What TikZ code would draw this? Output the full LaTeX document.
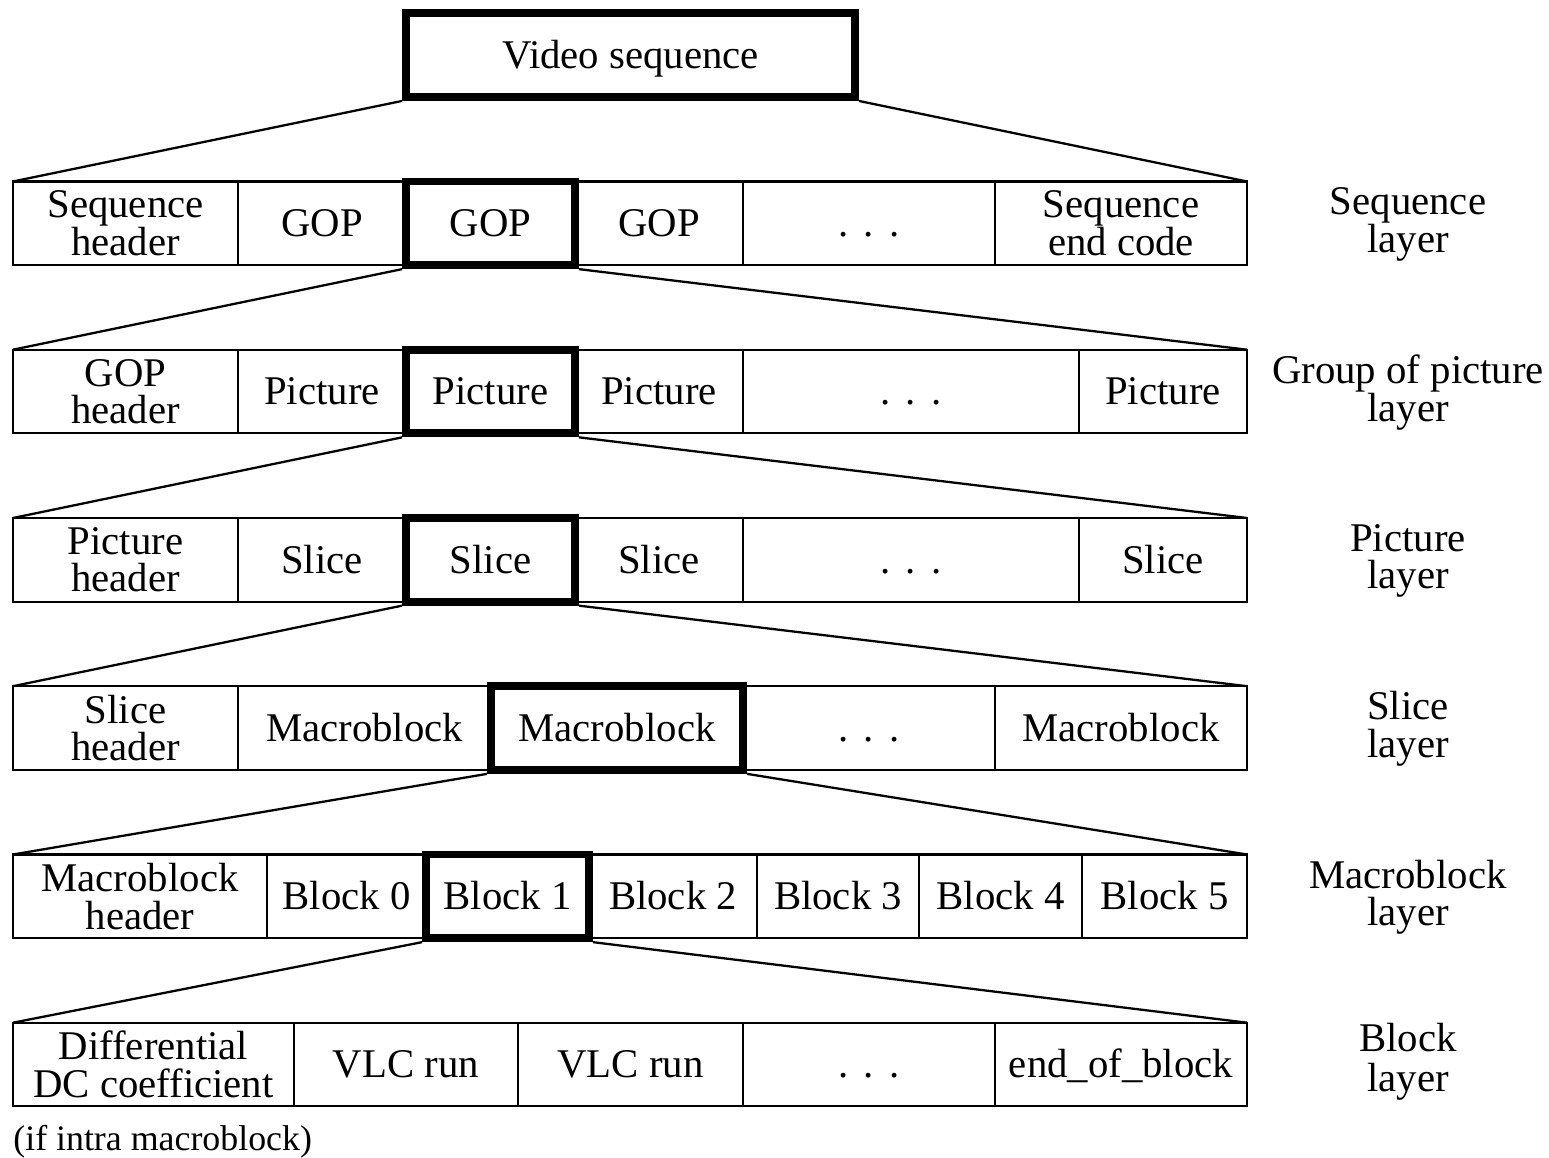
\documentclass[tikz,border=0pt]{standalone}
\usepackage{fontspec}
\setmainfont{Liberation Serif}
\usetikzlibrary{positioning,fit,calc}

\tikzset{
    box/.style={
            draw,
            line width=1.2pt,
            inner sep=0pt,
            outer sep=0pt,
            minimum height=83.7*0.02cm
        },
    cell/.style={
            box,
            text height=15pt,
            text depth=0pt
        },
    two line/.style={
            box,
            align=center
        },
    cellw/.style={
            minimum width=#1*0.02cm
        },
    sel/.style={
            draw,
            line width=4.5pt,
            inner sep=0pt,
            outer sep=2.25pt
        },
    fan/.style={
            line width=1.3pt
        },
    layer label/.style={
            align=center
        }
}

\newcommand{\gapdots}{.\hspace{0.38em}.\hspace{0.38em}.}

\begin{document}
\begin{tikzpicture}[x=0.02cm, y=-0.02cm, font=\fontsize{23.2}{21.4}\selectfont]
    \useasboundingbox (0,0) rectangle (1549,1158);

    % top box
    \node [cell, sel, minimum width=449*0.02cm, minimum height=84*0.02cm] (vs) at (630.5,55) {Video sequence};

    % sequence layer
    \node [two line, cellw=225, anchor=north west] (sh) at (13,181.5) {Sequence\\header};
    \node [cell, cellw=168, right=0pt of sh] (g1) {GOP};
    \node [cell, cellw=169, right=0pt of g1] (g2) {GOP};
    \node [cell, cellw=168, right=0pt of g2] (g3) {GOP};
    \node [cell, cellw=252, right=0pt of g3] (sdots) {\gapdots};
    \node [two line, cellw=252, right=0pt of sdots] (sec) {Sequence\\end code};

    % group of picture layer
    \node [two line, cellw=225, anchor=north west] (gh) at (13,349.7) {GOP\\header};
    \node [cell, cellw=168, right=0pt of gh] (p1) {Picture};
    \node [cell, cellw=169, right=0pt of p1] (p2) {Picture};
    \node [cell, cellw=168, right=0pt of p2] (p3) {Picture};
    \node [cell, cellw=336, right=0pt of p3] (gdots) {\gapdots};
    \node [cell, cellw=168, right=0pt of gdots] (p4) {Picture};

    % picture layer
    \node [two line, cellw=225, anchor=north west] (ph) at (13,518) {Picture\\header};
    \node [cell, cellw=168, right=0pt of ph] (sl1) {Slice};
    \node [cell, cellw=169, right=0pt of sl1] (sl2) {Slice};
    \node [cell, cellw=168, right=0pt of sl2] (sl3) {Slice};
    \node [cell, cellw=336, right=0pt of sl3] (pdots) {\gapdots};
    \node [cell, cellw=168, right=0pt of pdots] (sl4) {Slice};

    % slice layer
    \node [two line, cellw=225, anchor=north west] (slh) at (13,686.2) {Slice\\header};
    \node [cell, cellw=253, right=0pt of slh] (mb1) {Macroblock};
    \node [cell, cellw=252, right=0pt of mb1] (mb2) {Macroblock};
    \node [cell, cellw=252, right=0pt of mb2] (sldots) {\gapdots};
    \node [cell, cellw=252, right=0pt of sldots] (mb3) {Macroblock};

    % macroblock layer
    \node [two line, cellw=254, anchor=north west] (mbh) at (13,854.5) {Macroblock\\header};
    \node [cell, cellw=159, right=0pt of mbh] (b0) {Block 0};
    \node [cell, cellw=163, right=0pt of b0] (b1) {Block 1};
    \node [cell, cellw=168, right=0pt of b1] (b2) {Block 2};
    \node [cell, cellw=162, right=0pt of b2] (b3) {Block 3};
    \node [cell, cellw=163, right=0pt of b3] (b4) {Block 4};
    \node [cell, cellw=165, right=0pt of b4] (b5) {Block 5};

    % block layer
    \node [two line, cellw=281, anchor=north west] (dc) at (13,1022.7) {Differential\\DC coefficient};
    \node [cell, cellw=224, right=0pt of dc] (vlc1) {VLC run};
    \node [cell, cellw=225, right=0pt of vlc1] (vlc2) {VLC run};
    \node [cell, cellw=252, right=0pt of vlc2] (bdots) {\gapdots};
    \node [cell, cellw=252, right=0pt of bdots] (eob) {end\_of\_block};

    \node [anchor=base west, inner sep=0pt, font=\fontsize{20.4}{20.4}\selectfont] (intra) at ($(dc.south west) + (0,43.6)$) {(if intra macroblock)};

    % selected fields
    \node [sel, fit=(g2)] (selgop) {};
    \node [sel, fit=(p2)] (selpic) {};
    \node [sel, fit=(sl2)] (selslice) {};
    \node [sel, fit=(mb2)] (selmb) {};
    \node [sel, fit=(b1)] (selblk) {};

    \foreach \a/\l/\r in {vs/sh/sec, selgop/gh/p4, selpic/ph/sl4, selslice/slh/mb3, selmb/mbh/b5, selblk/dc/eob} {
        \draw [fan] (\a.south west) -- (\l.north west);
        \draw [fan] (\a.south east) -- (\r.north east);
    }

    % layer names
    \node [layer label] (lseq) at ($(sec.east) + (161,1)$) {Sequence\\layer};
    \node [layer label, font=\fontsize{23.2}{18.6}\selectfont] (lgop) at ($(p4.east) + (161,1)$) {Group of picture\\layer};
    \node [layer label] (lpic) at ($(sl4.east) + (161,1)$) {Picture\\layer};
    \node [layer label] (lslice) at ($(mb3.east) + (161,1)$) {Slice\\layer};
    \node [layer label] (lmb) at ($(b5.east) + (161,1)$) {Macroblock\\layer};
    \node [layer label, font=\fontsize{23.2}{23}\selectfont] (lblk) at ($(eob.east) + (161,-3)$) {Block\\layer};
\end{tikzpicture}
\end{document}
